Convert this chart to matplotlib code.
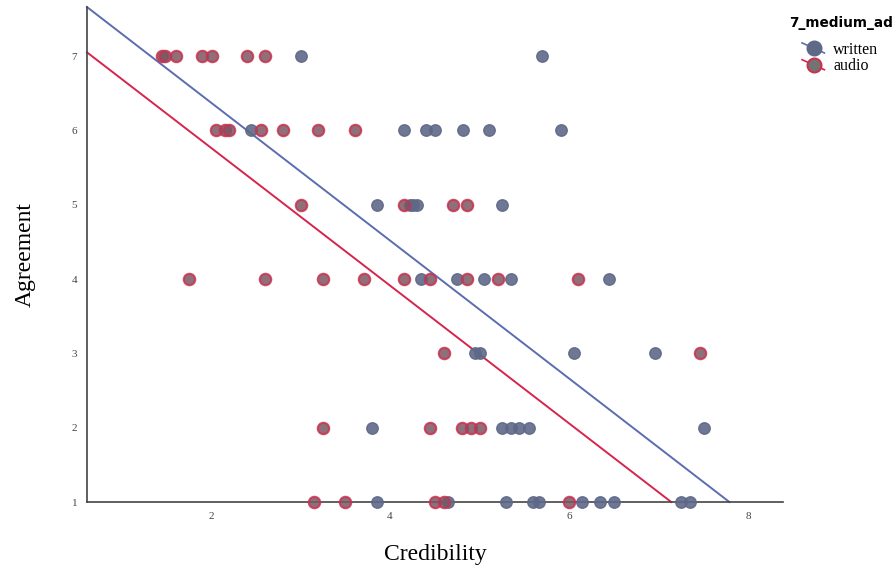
import matplotlib.pyplot as plt
from matplotlib.legend_handler import HandlerBase
from matplotlib.lines import Line2D

# credibility / agreement ratings per medium
written_x = [3.01, 5.70,
             2.45, 4.16, 4.40, 4.50, 4.81, 5.11, 5.91,
             3.85, 4.22, 4.26, 4.30, 5.25,
             4.35, 4.75, 5.05, 5.35, 6.45,
             4.95, 5.00, 6.06, 6.96,
             3.80, 5.25, 5.35, 5.44, 5.55, 7.51,
             3.85, 4.65, 5.30, 5.60, 5.66, 6.15, 6.35, 6.50, 7.25, 7.35]
written_y = [7, 7,
             6, 6, 6, 6, 6, 6, 6,
             5, 5, 5, 5, 5,
             4, 4, 4, 4, 4,
             3, 3, 3, 3,
             2, 2, 2, 2, 2, 2,
             1, 1, 1, 1, 1, 1, 1, 1, 1, 1]
audio_x = [1.45, 1.49, 1.61, 1.90, 2.01, 2.40, 2.60,
           2.06, 2.16, 2.20, 2.56, 2.80, 3.20, 3.61,
           3.01, 4.16, 4.70, 4.86,
           1.75, 2.60, 3.25, 3.71, 4.16, 4.45, 4.86, 5.21, 6.10,
           4.60, 7.46,
           3.25, 4.45, 4.80, 4.90, 5.01,
           3.15, 3.50, 4.50, 4.60, 6.00]
audio_y = [7, 7, 7, 7, 7, 7, 7,
           6, 6, 6, 6, 6, 6, 6,
           5, 5, 5, 5,
           4, 4, 4, 4, 4, 4, 4, 4, 4,
           3, 3,
           2, 2, 2, 2, 2,
           1, 1, 1, 1, 1]

# fit lines (intercept, slope)
written_fit = (8.23, -0.928)
audio_fit = (7.62, -0.927)

xlim = (0.615, 8.39)
ylim = (1.0, 7.66)

blue_line = '#5b6db0'
red_line = '#d6254c'
blue_fill = '#5e6887'
red_fill = '#7d5563'
red_edge = '#c8324f'


class HandlerDot(HandlerBase):
    # short sloped line with a dot on it
    def create_artists(self, legend, orig, xd, yd, width, height, fontsize, trans):
        cx, cy = width * 0.5 - xd, height * 0.5 - yd
        ln = Line2D([cx - 0.55 * width, cx + 0.45 * width],
                    [cy + 0.45 * height, cy - 0.45 * height],
                    color=orig.get_color(), lw=1.2, transform=trans)
        dot = Line2D([cx], [cy], marker='o', ls='none', ms=10,
                     markerfacecolor=orig.get_markerfacecolor(),
                     markeredgecolor=orig.get_markeredgecolor(),
                     markeredgewidth=1.5, transform=trans)
        return [ln, dot]


fig = plt.figure(figsize=(8.96, 5.74), dpi=100)
ax = fig.add_axes([87 / 896, 1 - 502 / 574, (783 - 87) / 896, (502 - 7) / 574])

for (a, b), c in [(written_fit, blue_line), (audio_fit, red_line)]:
    x_end = (ylim[0] - a) / b
    ax.plot([xlim[0], x_end], [a + b * xlim[0], ylim[0]], color=c, lw=1.4,
            zorder=2, clip_on=False)

ax.scatter(written_x, written_y, s=68, color=blue_fill, edgecolor=blue_fill,
           alpha=0.9, lw=1, zorder=3, clip_on=False)
ax.scatter(audio_x, audio_y, s=68, color=red_fill, edgecolor=red_edge,
           alpha=0.85, lw=1.5, zorder=3, clip_on=False)

ax.set_xlim(*xlim)
ax.set_ylim(*ylim)
ax.set_xticks([2, 4, 6, 8])
ax.set_yticks([1, 2, 3, 4, 5, 6, 7])
ax.tick_params(length=0, labelsize=8, labelcolor='#444444', pad=7)
for lab in ax.get_xticklabels() + ax.get_yticklabels():
    lab.set_family('Liberation Serif')
for s in ['top', 'right']:
    ax.spines[s].set_visible(False)
for s in ['left', 'bottom']:
    ax.spines[s].set_color('#444444')
    ax.spines[s].set_linewidth(1.2)

ax.set_xlabel('Credibility', family='Liberation Serif', fontsize=17, labelpad=17)
ax.set_ylabel('Agreement', family='Liberation Serif', fontsize=17, labelpad=26)

h_written = Line2D([], [], color=blue_line, marker='o',
                   markerfacecolor=blue_fill, markeredgecolor=blue_fill)
h_audio = Line2D([], [], color=red_line, marker='o',
                 markerfacecolor='#737373', markeredgecolor=red_edge)
leg = fig.legend([h_written, h_audio], ['written', 'audio'],
                 handler_map={h_written: HandlerDot(), h_audio: HandlerDot()},
                 loc='upper right', bbox_to_anchor=(1.0, 0.977), frameon=False,
                 title='7_medium_ad', prop={'family': 'Liberation Serif', 'size': 11.5},
                 handlelength=1.4, handletextpad=0.5, labelspacing=0.05,
                 borderaxespad=0.0, borderpad=0.2)
leg.get_title().set_fontweight('bold')
leg.get_title().set_fontsize(9.8)
leg.get_title().set_family('DejaVu Sans')
leg._legend_box.align = 'center'
leg._legend_box.sep = 8

fig.savefig('out.png', dpi=100)
